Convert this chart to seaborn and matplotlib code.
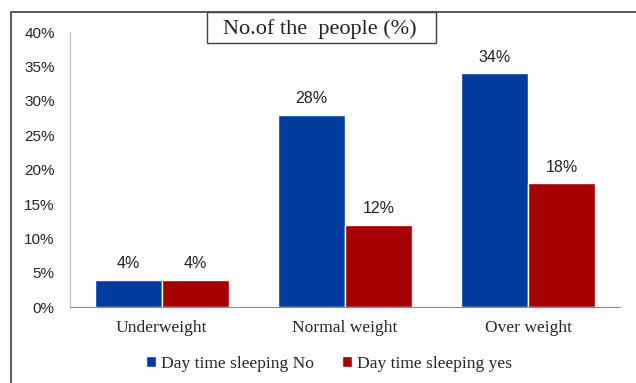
import matplotlib
matplotlib.use("Agg")
import matplotlib.pyplot as plt
import matplotlib.patches as mpatches
import seaborn as sns
import pandas as pd

categories = ["Underweight", "Normal weight", "Over weight"]
series_names = ["Day time sleeping No", "Day time sleeping yes"]
values_no = [4, 28, 34]
values_yes = [4, 12, 18]
yticks = [0, 5, 10, 15, 20, 25, 30, 35, 40]
title = "No.of the  people (%)"

df = pd.DataFrame({
    "category": categories * 2,
    "series": [series_names[0]] * 3 + [series_names[1]] * 3,
    "value": values_no + values_yes,
})

sns.set_style("white")
colors = ["#003C9D", "#A50000"]

fig = plt.figure(figsize=(6.36, 3.83), dpi=100)
ax = fig.add_axes([0.110, 0.198, 0.865, 0.718])
sns.barplot(data=df, x="category", y="value", hue="series", palette=colors,
            width=0.73, saturation=1, ax=ax, legend=True)

for cont in ax.containers:
    ax.bar_label(cont, labels=[f"{v:.0f}%" for v in cont.datavalues], padding=6,
                 fontsize=11.5, family="Liberation Sans", color="#222222")

ax.set_ylim(0, 40)
ax.set_xlim(-0.5, 2.5)
ax.set_yticks(yticks)
ax.set_yticklabels([f"{t}%" for t in yticks], family="Liberation Sans", fontsize=11)
ax.tick_params(axis="y", length=0, pad=11)
ax.tick_params(axis="x", length=0, pad=9)
for lbl in ax.get_xticklabels():
    lbl.set_family("Liberation Serif")
    lbl.set_fontsize(12.6)
ax.set_xlabel("")
ax.set_ylabel("")
for s in ["top", "right"]:
    ax.spines[s].set_visible(False)
ax.spines["left"].set_color("#BFBFBF")
ax.spines["bottom"].set_color("#8C8C8C")

leg = ax.legend(loc="center", bbox_to_anchor=(0.471, -0.205), ncol=2, frameon=False,
                prop={"family": "Liberation Serif", "size": 12.6},
                handlelength=0.55, handleheight=0.55, handletextpad=0.3, columnspacing=1.6)

# outer frame
fig.patches.append(mpatches.Rectangle((11 / 636, -0.1), 1.2, 1.1 - 12 / 383,
                                      transform=fig.transFigure, fill=False,
                                      edgecolor="#404040", linewidth=1.2))
# title box
fig.patches.append(mpatches.Rectangle((207 / 636, 1 - 43 / 383), 229 / 636, 31 / 383,
                                      transform=fig.transFigure, facecolor="white",
                                      edgecolor="#404040", linewidth=1.0))
fig.text(320 / 636, 1 - 29 / 383, title, ha="center", va="center",
         family="Liberation Serif", fontsize=16, color="#222222")

fig.savefig("out.png", dpi=100)
